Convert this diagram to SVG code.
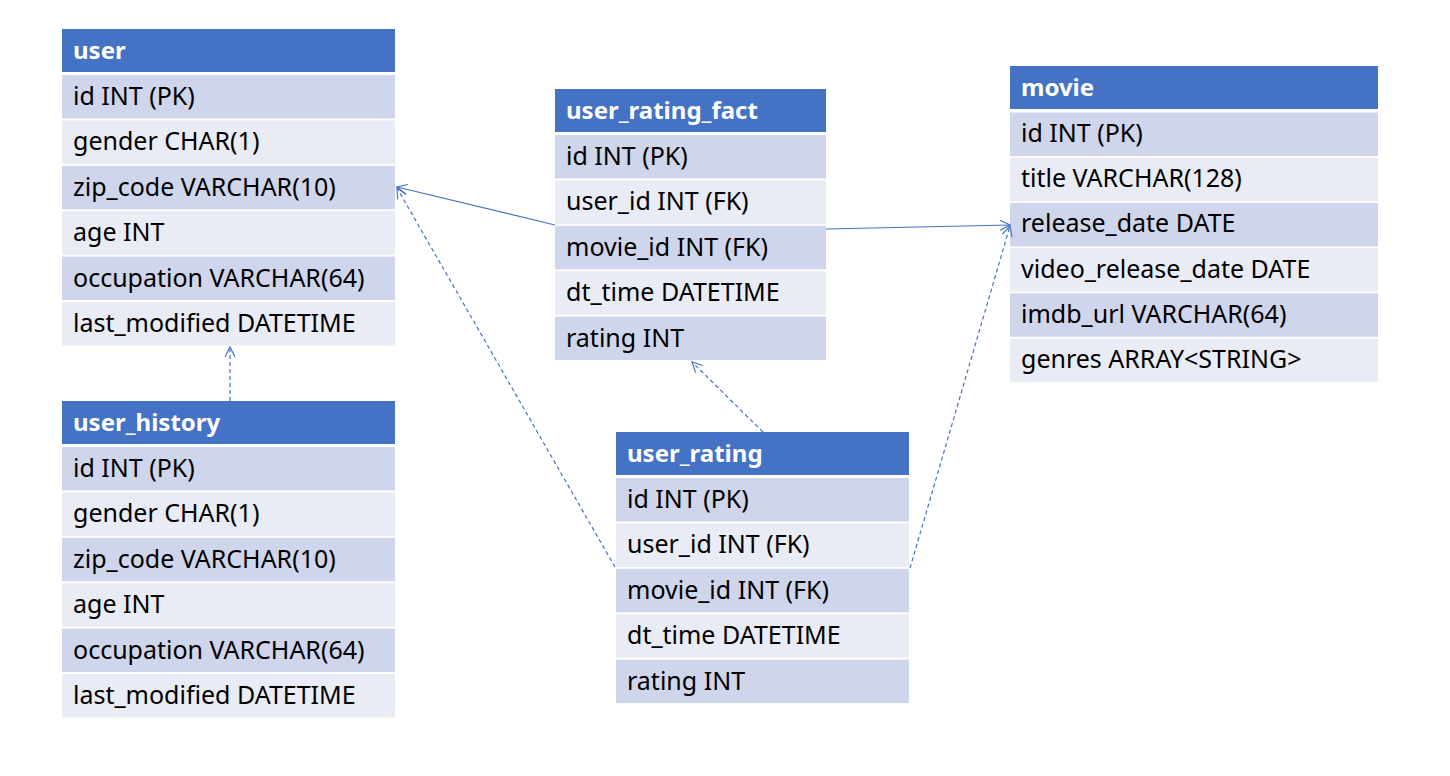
<svg xmlns="http://www.w3.org/2000/svg" width="1450" height="776" viewBox="0 0 1450 776">
<style>
.h{fill:#4472C4}
.a{fill:#CFD5EA}
.b{fill:#E9EBF5}
.ht{font-family:"Noto Sans","Open Sans",sans-serif;font-size:24px;font-weight:bold;fill:#fff}
.t{font-family:"Noto Sans","Open Sans",sans-serif;font-size:25px;fill:#000}
.c{stroke:#4472C4;stroke-width:1.2;fill:none}
.d{stroke-dasharray:4 3}
</style>
<defs>
<marker id="arr" viewBox="0 0 12 12" refX="11" refY="6" markerWidth="12" markerHeight="12" markerUnits="userSpaceOnUse" orient="auto">
<path d="M1,1 L11,6 L1,11" fill="none" stroke="#4472C4" stroke-width="1.2"/>
</marker>
</defs>
<rect width="1450" height="776" fill="#fff"/>

<g id="user">
<rect class="h" x="62" y="29" width="333" height="43"/>
<text class="ht" x="73" y="59">user</text>
<rect class="a" x="62" y="75" width="333" height="43.5"/>
<rect class="b" x="62" y="120.4" width="333" height="43.5"/>
<rect class="a" x="62" y="165.8" width="333" height="43.5"/>
<rect class="b" x="62" y="211.2" width="333" height="43.5"/>
<rect class="a" x="62" y="256.6" width="333" height="43.5"/>
<rect class="b" x="62" y="302" width="333" height="43.5"/>
<text class="t" x="73" y="105">id INT (PK)</text>
<text class="t" x="73" y="150.4">gender CHAR(1)</text>
<text class="t" x="73" y="195.8">zip_code VARCHAR(10)</text>
<text class="t" x="73" y="241.2">age INT</text>
<text class="t" x="73" y="286.6">occupation VARCHAR(64)</text>
<text class="t" x="73" y="332">last_modified DATETIME</text>
</g>

<g id="user_history">
<rect class="h" x="62" y="401" width="333" height="43"/>
<text class="ht" x="73" y="431">user_history</text>
<rect class="a" x="62" y="447" width="333" height="43.5"/>
<rect class="b" x="62" y="492.4" width="333" height="43.5"/>
<rect class="a" x="62" y="537.8" width="333" height="43.5"/>
<rect class="b" x="62" y="583.2" width="333" height="43.5"/>
<rect class="a" x="62" y="628.6" width="333" height="43.5"/>
<rect class="b" x="62" y="674" width="333" height="43.5"/>
<text class="t" x="73" y="477">id INT (PK)</text>
<text class="t" x="73" y="522.4">gender CHAR(1)</text>
<text class="t" x="73" y="567.8">zip_code VARCHAR(10)</text>
<text class="t" x="73" y="613.2">age INT</text>
<text class="t" x="73" y="658.6">occupation VARCHAR(64)</text>
<text class="t" x="73" y="704">last_modified DATETIME</text>
</g>

<g id="user_rating_fact">
<rect class="h" x="555" y="89" width="271" height="43"/>
<text class="ht" x="566" y="119">user_rating_fact</text>
<rect class="a" x="555" y="135" width="271" height="43.5"/>
<rect class="b" x="555" y="180.4" width="271" height="43.5"/>
<rect class="a" x="555" y="225.8" width="271" height="43.5"/>
<rect class="b" x="555" y="271.2" width="271" height="43.5"/>
<rect class="a" x="555" y="316.6" width="271" height="43.5"/>
<text class="t" x="566" y="165">id INT (PK)</text>
<text class="t" x="566" y="210.4">user_id INT (FK)</text>
<text class="t" x="566" y="255.8">movie_id INT (FK)</text>
<text class="t" x="566" y="301.2">dt_time DATETIME</text>
<text class="t" x="566" y="346.6">rating INT</text>
</g>

<g id="movie">
<rect class="h" x="1010" y="66" width="368" height="43"/>
<text class="ht" x="1021" y="96">movie</text>
<rect class="a" x="1010" y="112.5" width="368" height="43.5"/>
<rect class="b" x="1010" y="157.7" width="368" height="43.5"/>
<rect class="a" x="1010" y="202.9" width="368" height="43.5"/>
<rect class="b" x="1010" y="248.1" width="368" height="43.5"/>
<rect class="a" x="1010" y="293.3" width="368" height="43.5"/>
<rect class="b" x="1010" y="338.5" width="368" height="43.5"/>
<text class="t" x="1021" y="142">id INT (PK)</text>
<text class="t" x="1021" y="187.2">title VARCHAR(128)</text>
<text class="t" x="1021" y="232.4">release_date DATE</text>
<text class="t" x="1021" y="277.6">video_release_date DATE</text>
<text class="t" x="1021" y="322.8">imdb_url VARCHAR(64)</text>
<text class="t" x="1021" y="368">genres ARRAY&lt;STRING&gt;</text>
</g>

<g id="user_rating">
<rect class="h" x="616" y="432" width="293" height="43"/>
<text class="ht" x="627" y="462">user_rating</text>
<rect class="a" x="616" y="478" width="293" height="43.5"/>
<rect class="b" x="616" y="523.4" width="293" height="43.5"/>
<rect class="a" x="616" y="568.8" width="293" height="43.5"/>
<rect class="b" x="616" y="614.2" width="293" height="43.5"/>
<rect class="a" x="616" y="659.6" width="293" height="43.5"/>
<text class="t" x="627" y="508">id INT (PK)</text>
<text class="t" x="627" y="553.4">user_id INT (FK)</text>
<text class="t" x="627" y="598.8">movie_id INT (FK)</text>
<text class="t" x="627" y="644.2">dt_time DATETIME</text>
<text class="t" x="627" y="689.6">rating INT</text>
</g>

<g id="connectors">
<line class="c" x1="555" y1="225" x2="397" y2="187" marker-end="url(#arr)"/>
<line class="c" x1="826" y1="229" x2="1010" y2="225" marker-end="url(#arr)"/>
<line class="c d" x1="230" y1="401" x2="230" y2="347" marker-end="url(#arr)"/>
<line class="c d" x1="763" y1="432" x2="692" y2="362" marker-end="url(#arr)"/>
<line class="c d" x1="615" y1="567" x2="397" y2="188" marker-end="url(#arr)"/>
<line class="c d" x1="910" y1="568" x2="1010" y2="226" marker-end="url(#arr)"/>
</g>
</svg>
